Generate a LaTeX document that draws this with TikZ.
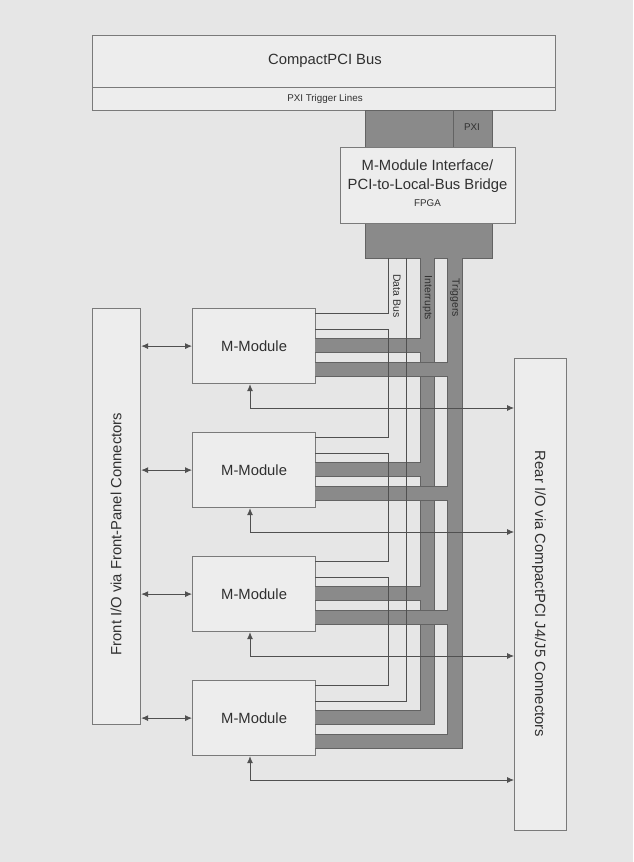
\documentclass[tikz,border=0pt]{standalone}
\usepackage{fontspec}
\setmainfont{Liberation Sans}
\usetikzlibrary{arrows.meta}
\definecolor{bg}{HTML}{E6E6E6}
\definecolor{boxfill}{HTML}{EDEDED}
\definecolor{edge}{HTML}{7A7A7A}
\definecolor{busgray}{HTML}{8A8A8A}
\definecolor{busedge}{HTML}{636363}
\definecolor{wire}{HTML}{505050}
\definecolor{ink}{HTML}{303030}
\begin{document}
\begin{tikzpicture}[x=1pt,y=-1pt,
  blockbox/.style={draw=edge, line width=1.2pt, fill=boxfill, anchor=north west, inner sep=0pt},
  lbl/.style={text=ink, inner sep=0pt, font=\fontsize{14.8}{19}\selectfont},
  small/.style={text=ink, inner sep=0pt, font=\fontsize{9.8}{11}\selectfont},
  buslbl/.style={text=ink, inner sep=0pt, font=\fontsize{10.5}{12}\selectfont, rotate=-90},
  wire/.style={draw=wire, line width=0.8pt},
  wirearrow/.style={wire, {Latex[length=7pt,width=6pt]}-{Latex[length=7pt,width=6pt]}},
]
\useasboundingbox (0,0) rectangle (633,862);
\fill[bg] (0,0) rectangle (633,862);

% CompactPCI backplane bus
\node[blockbox, minimum width=463pt, minimum height=75pt] (bus) at (92,35) {};
\draw[edge, line width=1pt] ([yshift=-52pt]bus.north west) -- ([yshift=-52pt]bus.north east);
\node[lbl] (bustxt) at (325,61) {CompactPCI Bus};
\node[small] (trig) at (325,99) {PXI Trigger Lines};

% local bus block behind the bridge
\node[draw=busedge, fill=busgray, line width=1pt, minimum width=127pt, minimum height=148pt, anchor=north west, inner sep=0pt] (lbus) at (365,110) {};
\draw[busedge, line width=1pt] ([xshift=88pt]lbus.north west) -- ++(0,37);
\node[small] (pxi) at (472,127) {PXI};

% bridge FPGA
\node[blockbox, minimum width=175pt, minimum height=76pt] (fpga) at (340,147) {};
\node[lbl, align=center] (fpgatxt) at (427.5,176.5) {M-Module Interface/\\PCI-to-Local-Bus Bridge};
\node[small] (fpgasub) at (427.5,203) {FPGA};

% I/O connector boxes
\node[blockbox, minimum width=48pt, minimum height=416pt] (front) at (92,308) {};
\node[lbl, rotate=90] (fronttxt) at (116,534) {Front I/O via Front-Panel Connectors};
\node[blockbox, minimum width=52pt, minimum height=472pt] (rear) at (514,358) {};
\node[lbl, rotate=-90] (reartxt) at (539,594) {Rear I/O via CompactPCI J4/J5 Connectors};

% bus columns leaving the local bus block
\coordinate (dL) at (388,258);
\coordinate (dR) at (406,258);
\coordinate (g1) at (427.5,258);
\coordinate (g2) at (455,258);

% M-Modules and their attachment points
\foreach \i/\t in {1/308,2/432,3/556,4/680}{
  \node[blockbox, minimum width=123pt, minimum height=75pt, lbl] (m\i) at (192,\t) {};
  \node[lbl] (m\i txt) at (m\i.center) {M-Module};
  \coordinate (m\i-dt) at (315,\t+5);
  \coordinate (m\i-db) at (315,\t+21);
  \coordinate (m\i-g1) at (315,\t+37.5);
  \coordinate (m\i-g2) at (315,\t+61.5);
  \coordinate (m\i-r) at (250,\t+100);
}

% wide gray buses: dark stroke, then lighter core
\foreach \w/\c in {15.5pt/busedge, 13.8pt/busgray}{
  \draw[\c, line width=\w] (g1) -- (g1 |- m4-g1) -- (m4-g1);
  \foreach \i in {1,2,3} \draw[\c, line width=\w] (m\i-g1) -- (m\i-g1 -| g1);
}
\foreach \w/\c in {15.5pt/busedge, 13.8pt/busgray}{
  \draw[\c, line width=\w] (g2) -- (g2 |- m4-g2) -- (m4-g2);
  \foreach \i in {1,2,3} \draw[\c, line width=\w] (m\i-g2) -- (m\i-g2 -| g2);
}

% data bus outline
\draw[wire] (dL) -- (dL |- m1-dt) -- (m1-dt);
\draw[wire] (m1-db) -- (m1-db -| dL) -- (dL |- m2-dt) -- (m2-dt);
\draw[wire] (m2-db) -- (m2-db -| dL) -- (dL |- m3-dt) -- (m3-dt);
\draw[wire] (m3-db) -- (m3-db -| dL) -- (dL |- m4-dt) -- (m4-dt);
\draw[wire] (dR) -- (dR |- m4-db) -- (m4-db);

% bus labels
\node[buslbl] (dbl) at (397,296) {Data Bus};
\node[buslbl] (irq) at (427.5,298) {Interrupts};
\node[buslbl] (trg) at (455,298) {Triggers};

% front and rear I/O connections
\foreach \i in {1,2,3,4}{
  \draw[wirearrow] (m\i.west -| front.east) -- (m\i.west);
  \draw[wirearrow] (m\i-r |- m\i.south) -- (m\i-r) -- (m\i-r -| rear.west);
}
\end{tikzpicture}
\end{document}
